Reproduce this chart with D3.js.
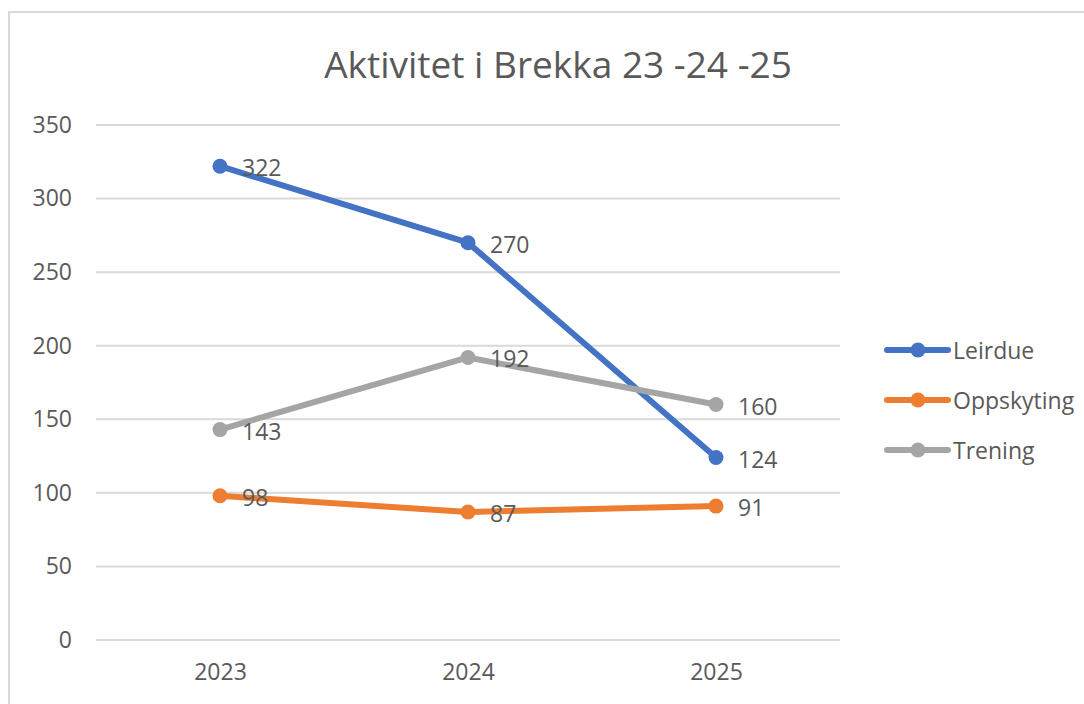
<!DOCTYPE html>
<html><head><meta charset="utf-8">
<script src="https://cdn.jsdelivr.net/npm/d3@7"></script>
<style>body{margin:0;background:#fff;} svg{display:block;font-family:"Open Sans","Noto Sans",sans-serif;}</style>
</head><body>
<svg id="c" width="1084" height="704"></svg>
<script>
const categories = ["2023", "2024", "2025"];
const seriesNames = ["Leirdue", "Oppskyting", "Trening"];
const leirdue = [322, 270, 124];
const oppskyting = [98, 87, 91];
const trening = [143, 192, 160];
const yTicks = [0, 50, 100, 150, 200, 250, 300, 350];
const colors = ["#4472C4", "#ED7D31", "#A5A5A5"];
const titleText = "Aktivitet i Brekka 23 -24 -25";

const series = [leirdue, oppskyting, trening];
const svg = d3.select("#c");
const textColor = "#595959";
const fs = "23px";

svg.append("rect").attr("x", 9).attr("y", 12).attr("width", 1090).attr("height", 710)
  .attr("fill", "#fff").attr("stroke", "#D9D9D9").attr("stroke-width", 2);

const x = d3.scalePoint().domain(categories).range([220, 716]);
const y = d3.scaleLinear().domain([0, 350]).range([640, 125]);

// gridlines
svg.append("g").selectAll("line").data(yTicks).join("line")
  .attr("x1", 96).attr("x2", 840)
  .attr("y1", d => y(d)).attr("y2", d => y(d))
  .attr("stroke", "#D9D9D9").attr("stroke-width", 2);

// y axis labels
const yAxis = d3.axisLeft(y).tickValues(yTicks).tickSize(0).tickPadding(0);
const gy = svg.append("g").attr("transform", "translate(72,0)").call(yAxis);
gy.select(".domain").remove();
gy.selectAll("text").attr("fill", textColor).style("font-size", fs)
  .style("font-family", "'Open Sans','Noto Sans',sans-serif");

// x axis labels
const xAxis = d3.axisBottom(x).tickSize(0).tickPadding(0);
const gx = svg.append("g").attr("transform", "translate(0,664)").call(xAxis);
gx.select(".domain").remove();
gx.selectAll("text").attr("fill", textColor).style("font-size", fs)
  .style("font-family", "'Open Sans','Noto Sans',sans-serif");

// title
svg.append("text").attr("x", 558).attr("y", 78).attr("text-anchor", "middle")
  .attr("fill", textColor).style("font-size", "37px").text(titleText);

const line = d3.line().x((d, i) => x(categories[i])).y(d => y(d));

series.forEach((s, k) => {
  const g = svg.append("g");
  g.append("path").datum(s).attr("d", line).attr("fill", "none")
    .attr("stroke", colors[k]).attr("stroke-width", 6).attr("stroke-linecap", "round").attr("stroke-linejoin", "round");
  g.selectAll("circle").data(s).join("circle")
    .attr("cx", (d, i) => x(categories[i])).attr("cy", d => y(d)).attr("r", 7.5)
    .attr("fill", colors[k]);
  g.selectAll("text").data(s).join("text")
    .attr("x", (d, i) => x(categories[i]) + 22).attr("y", d => y(d) + 1)
    .attr("dominant-baseline", "central")
    .attr("fill", textColor).style("font-size", fs).text(d => d);
});

// legend
const lg = svg.append("g");
seriesNames.forEach((n, k) => {
  const yy = 350 + k * 50;
  lg.append("line").attr("x1", 887).attr("x2", 948).attr("y1", yy).attr("y2", yy)
    .attr("stroke", colors[k]).attr("stroke-width", 6).attr("stroke-linecap", "round");
  lg.append("circle").attr("cx", 918).attr("cy", yy).attr("r", 7.5).attr("fill", colors[k]);
  lg.append("text").attr("x", 953).attr("y", yy).attr("dominant-baseline", "central")
    .attr("fill", textColor).style("font-size", fs).text(n);
});
</script>
</body></html>
